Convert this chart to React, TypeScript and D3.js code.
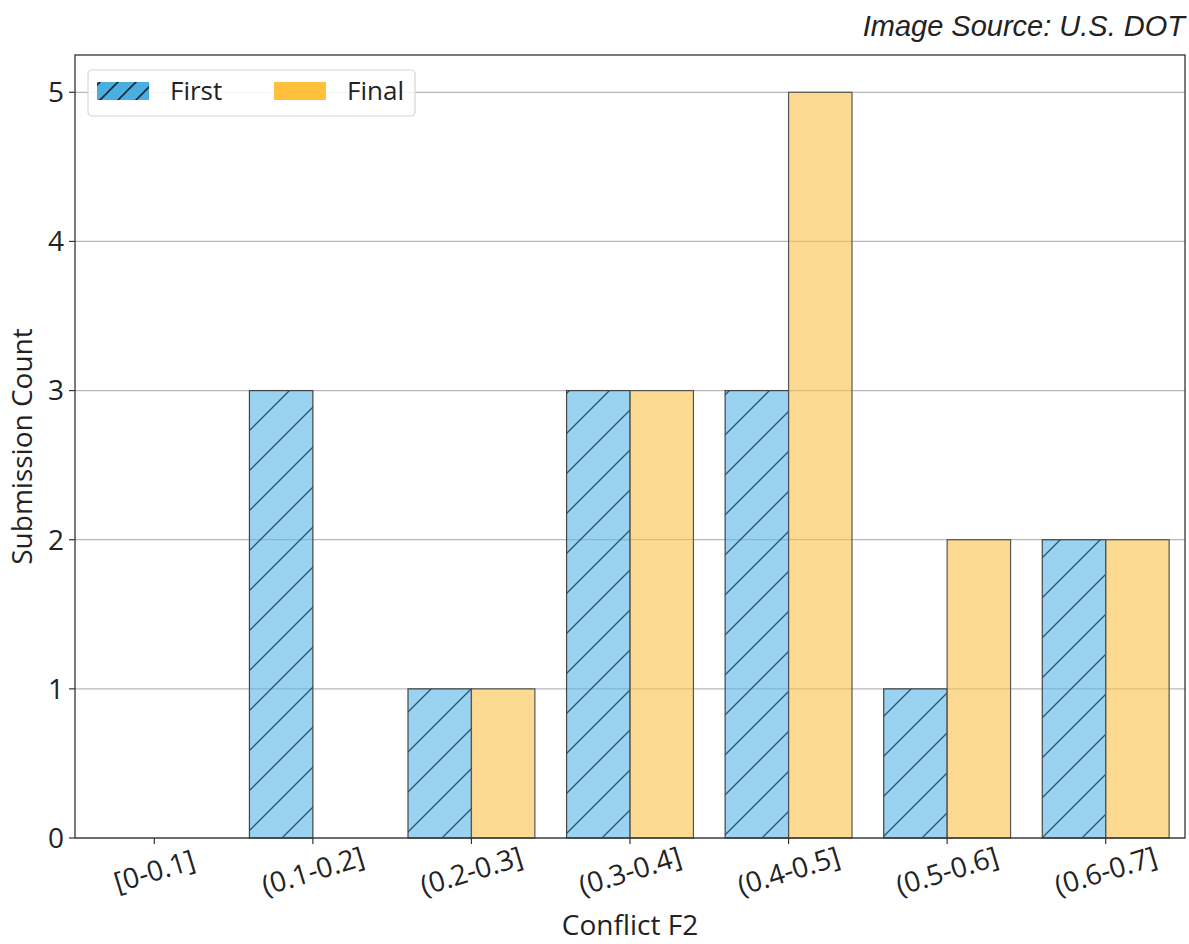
import React from "react";
import * as d3 from "d3";

const categories = ["[0-0.1]", "(0.1-0.2]", "(0.2-0.3]", "(0.3-0.4]", "(0.4-0.5]", "(0.5-0.6]", "(0.6-0.7]"];
const firstCounts = [0, 3, 1, 3, 3, 1, 2];
const finalCounts = [0, 0, 1, 3, 5, 2, 2];
const yTicks = [0, 1, 2, 3, 4, 5];

const W = 1189;
const H = 944;
const margin = { left: 75, right: 4, top: 55, bottom: 106 };
const FONT = "'Open Sans', 'Noto Sans', sans-serif";
const TICK_FS = 28;
const LABEL_FS = 28;

export default function App() {
  const x = d3
    .scaleLinear()
    .domain([-0.5, categories.length - 0.5])
    .range([margin.left, W - margin.right]);
  const y = d3
    .scaleLinear()
    .domain([0, 5.25])
    .range([H - margin.bottom, margin.top]);
  const barW = 0.4;
  const y0 = y(0);

  return (
    <svg
      width={W}
      height={H}
      style={{ position: "absolute", left: 0, top: 0, background: "#fff" }}
      fontFamily={FONT}
    >
      <defs>
        <pattern id="hatch" patternUnits="userSpaceOnUse" width={40} height={40}>
          <path d="M-10,50 L50,-10 M-10,10 L10,-10 M30,50 L50,30" stroke="#2c5366" strokeWidth={1.3} />
        </pattern>
        <pattern id="hatchLegend" patternUnits="userSpaceOnUse" width={18} height={18} x={0} y={2}>
          <path d="M-4,22 L22,-4 M-4,4 L4,-4 M14,22 L22,14" stroke="#102a3a" strokeWidth={1.6} />
        </pattern>
      </defs>

      <text x={W - 4} y={36} textAnchor="end" fontFamily="'Liberation Sans', Arial, sans-serif" fontStyle="italic" fontSize={29} fill="#222">
        Image Source: U.S. DOT
      </text>

      {/* horizontal grid */}
      {yTicks.map((t) => (
        <line key={`g${t}`} x1={margin.left} x2={W - margin.right} y1={y(t)} y2={y(t)} stroke="#b8b8b8" strokeWidth={1.2} />
      ))}

      {/* First submission bars (hatched) */}
      {firstCounts.map((v, i) =>
        v > 0 ? (
          <g key={`f${i}`}>
            <rect x={x(i - barW)} y={y(v)} width={x(i) - x(i - barW)} height={y0 - y(v)} fill="#56b4e9" fillOpacity={0.6} />
            <rect x={x(i - barW)} y={y(v)} width={x(i) - x(i - barW)} height={y0 - y(v)} fill="url(#hatch)" />
            <rect x={x(i - barW)} y={y(v)} width={x(i) - x(i - barW)} height={y0 - y(v)} fill="none" stroke="#444" strokeWidth={1.2} />
          </g>
        ) : null
      )}

      {/* Final submission bars */}
      {finalCounts.map((v, i) =>
        v > 0 ? (
          <rect
            key={`n${i}`}
            x={x(i)}
            y={y(v)}
            width={x(i + barW) - x(i)}
            height={y0 - y(v)}
            fill="#fcc24a"
            fillOpacity={0.6}
            stroke="#555"
            strokeWidth={1.2}
          />
        ) : null
      )}

      {/* frame */}
      <rect
        x={margin.left}
        y={margin.top}
        width={W - margin.right - margin.left}
        height={y0 - margin.top}
        fill="none"
        stroke="#333"
        strokeWidth={1.3}
      />

      {/* y axis ticks */}
      {yTicks.map((t) => (
        <g key={`yt${t}`}>
          <line x1={margin.left - 6} x2={margin.left} y1={y(t)} y2={y(t)} stroke="#333" strokeWidth={1.2} />
          <text x={margin.left - 11} y={y(t)} dy="0.35em" textAnchor="end" fontSize={TICK_FS} fill="#222">
            {t}
          </text>
        </g>
      ))}

      {/* x axis ticks */}
      {categories.map((c, i) => (
        <g key={`xt${i}`}>
          <line x1={x(i)} x2={x(i)} y1={y0} y2={y0 + 6} stroke="#333" strokeWidth={1.2} />
          <text
            transform={`translate(${x(i)},${y0 + 33}) rotate(-17)`}
            textAnchor="middle"
            dy="0.35em"
            fontSize={TICK_FS}
            fill="#222"
          >
            {c}
          </text>
        </g>
      ))}

      <text x={(margin.left + W - margin.right) / 2} y={935} textAnchor="middle" fontSize={LABEL_FS} fill="#222">
        Conflict F2
      </text>
      <text
        transform={`translate(32,${(margin.top + y0) / 2}) rotate(-90)`}
        textAnchor="middle"
        fontSize={LABEL_FS}
        fill="#222"
      >
        Submission Count
      </text>

      {/* legend */}
      <g>
        <rect x={88} y={70} width={327} height={46} rx={4} fill="#fff" fillOpacity={0.85} stroke="#d6d6d6" strokeWidth={1.2} />
        <rect x={97} y={82} width={52} height={18} fill="#4aaee0" />
        <rect x={97} y={82} width={52} height={18} fill="url(#hatchLegend)" />
        <text x={170} y={91} dy="0.35em" fontSize={26} fill="#222">
          First
        </text>
        <rect x={274} y={82} width={52} height={18} fill="#ffc13c" />
        <text x={347} y={91} dy="0.35em" fontSize={26} fill="#222">
          Final
        </text>
      </g>
    </svg>
  );
}
